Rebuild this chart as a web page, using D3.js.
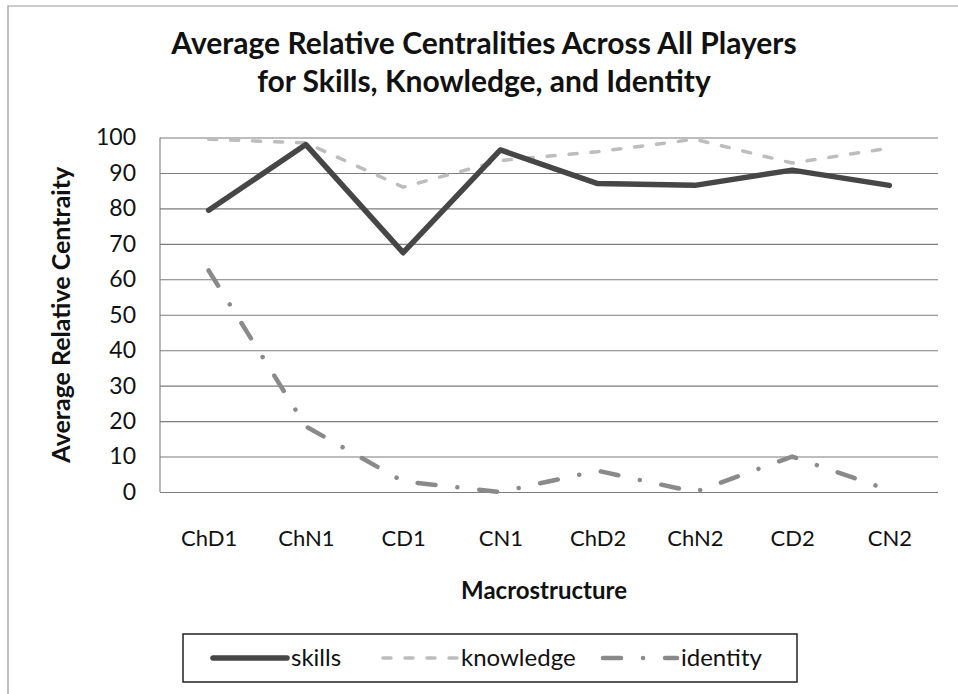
<!DOCTYPE html>
<html>
<head>
<meta charset="utf-8">
<script src="https://cdn.jsdelivr.net/npm/d3@7/dist/d3.min.js"></script>
<style>
  html, body { margin: 0; padding: 0; background: #fff; }
  svg { display: block; font-family: Lato, "Open Sans", sans-serif; }
</style>
</head>
<body>
<svg id="chart" width="958" height="694"></svg>
<script>
// ---- data ----
const categories = ["ChD1", "ChN1", "CD1", "CN1", "ChD2", "ChN2", "CD2", "CN2"];
const skills    = [79.5, 98, 67.5, 96.5, 87, 86.5, 90.8, 86.5];
const knowledge = [99.5, 98.5, 86, 93.5, 96, 99.5, 92.8, 97];
const identity  = [62.5, 18.5, 3, 0, 6, 0, 10, 0.5];
const yTicks = [0, 10, 20, 30, 40, 50, 60, 70, 80, 90, 100];
const seriesNames = ["skills", "knowledge", "identity"];
const titleLines = ["Average Relative Centralities Across All Players", "for Skills, Knowledge, and Identity"];
const yTitle = "Average Relative Centraity";
const xTitle = "Macrostructure";

// ---- layout ----
const svg = d3.select("#chart");
const plot = { left: 160, right: 938, top: 137.5, bottom: 492 };

const x = d3.scalePoint().domain(categories).range([plot.left, plot.right]).padding(0.5);
const y = d3.scaleLinear().domain([0, 100]).range([plot.bottom, plot.top]);

// outer chart border
svg.append("path")
  .attr("d", "M8,700 L8,6 L960,6")
  .attr("fill", "none").attr("stroke", "#9a9a9a").attr("stroke-width", 1.2);

// title
const title = svg.append("text").attr("text-anchor", "middle")
  .attr("font-weight", 700).attr("font-size", 30).attr("fill", "#111");
title.selectAll("tspan").data(titleLines).join("tspan")
  .attr("x", 484).attr("y", (d, i) => 54 + i * 38).text(d => d);

// gridlines
svg.append("g")
  .attr("transform", `translate(${plot.left},0)`)
  .call(d3.axisLeft(y).tickValues(yTicks).tickSize(-(plot.right - plot.left)).tickFormat(""))
  .call(g => g.select(".domain").remove())
  .call(g => g.selectAll("line").attr("stroke", "#7d7d7d").attr("stroke-width", 1.1));

// left axis line
svg.append("line")
  .attr("x1", plot.left).attr("x2", plot.left)
  .attr("y1", y(100)).attr("y2", y(0))
  .attr("stroke", "#7d7d7d").attr("stroke-width", 1.1);

// y tick labels
svg.append("g")
  .attr("transform", `translate(${plot.left},0)`)
  .call(d3.axisLeft(y).tickValues(yTicks).tickSize(0).tickPadding(24))
  .call(g => g.select(".domain").remove())
  .call(g => g.selectAll("text").attr("font-size", 23).attr("font-family", "Lato, sans-serif").attr("fill", "#111"));

// x tick labels
svg.append("g")
  .attr("transform", `translate(0,${plot.bottom})`)
  .call(d3.axisBottom(x).tickSize(0).tickPadding(38))
  .call(g => g.select(".domain").remove())
  .call(g => g.selectAll("text").attr("font-size", 22).attr("font-family", "Lato, sans-serif").attr("fill", "#111"));

// axis titles
svg.append("text")
  .attr("transform", `translate(70,${(plot.top + plot.bottom) / 2}) rotate(-90)`)
  .attr("text-anchor", "middle").attr("font-weight", 700).attr("font-size", 25).attr("fill", "#111")
  .text(yTitle);
svg.append("text")
  .attr("x", (plot.left + plot.right) / 2 - 5).attr("y", 599)
  .attr("text-anchor", "middle").attr("font-weight", 700).attr("font-size", 24).attr("fill", "#111")
  .text(xTitle);

// series styles
const styles = {
  skills:    { stroke: "#464646", width: 5.5, dash: null,            cap: "round" },
  knowledge: { stroke: "#bdbdbd", width: 3.5, dash: "8,14",          cap: "round" },
  identity:  { stroke: "#8a8a8a", width: 4.5, dash: "18,22,0.01,22", cap: "round" }
};
const seriesData = { skills, knowledge, identity };

const line = d3.line().x((d, i) => x(categories[i])).y(d => y(d));

// draw order: knowledge behind, then skills, then identity
["knowledge", "skills", "identity"].forEach(name => {
  const s = styles[name];
  svg.append("path")
    .datum(seriesData[name])
    .attr("d", line)
    .attr("fill", "none")
    .attr("stroke", s.stroke)
    .attr("stroke-width", s.width)
    .attr("stroke-linecap", s.cap)
    .attr("stroke-linejoin", "round")
    .attr("stroke-dasharray", s.dash);
});

// legend
const legend = svg.append("g");
legend.append("rect")
  .attr("x", 183).attr("y", 634).attr("width", 614).attr("height", 48)
  .attr("fill", "#fff").attr("stroke", "#222").attr("stroke-width", 1.5);
const legendPos = [213, 383, 603];
seriesNames.forEach((name, i) => {
  const s = styles[name];
  const x0 = legendPos[i];
  legend.append("line")
    .attr("x1", x0).attr("x2", x0 + 74).attr("y1", 658).attr("y2", 658)
    .attr("stroke", s.stroke).attr("stroke-width", s.width)
    .attr("stroke-linecap", s.cap).attr("stroke-dasharray", s.dash);
  legend.append("text")
    .attr("x", x0 + 78).attr("y", 666)
    .attr("font-size", 24).attr("fill", "#111")
    .text(name);
});
</script>
</body>
</html>
